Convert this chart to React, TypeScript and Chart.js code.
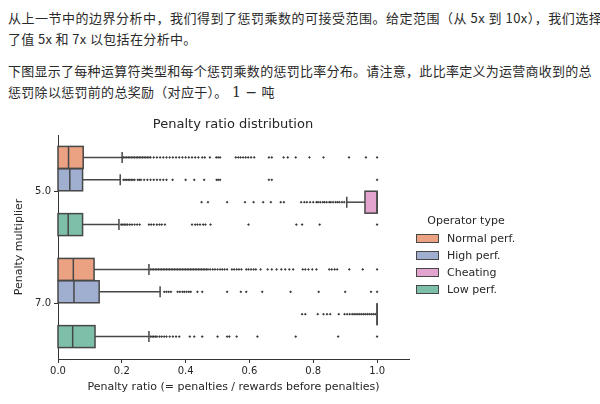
import React, { useEffect, useRef } from "react";
import { Chart, registerables } from "chart.js";

Chart.register(...registerables);

// ---------- data ----------
const categories = ["5.0", "7.0"];
const operatorTypes = ["Normal perf.", "High perf.", "Cheating", "Low perf."];
const xTicks = [0, 0.2, 0.4, 0.6, 0.8, 1.0];

// box stats per category: [whiskerLow, q1, median, q3, whiskerHigh]
const normalBox = [
  [0, 0, 0.033, 0.079, 0.201],
  [0, 0, 0.048, 0.113, 0.285],
];
const highBox = [
  [0, 0, 0.037, 0.077, 0.195],
  [0, 0, 0.05, 0.129, 0.32],
];
const cheatingBox = [
  [0.905, 0.962, 1.0, 1.0, 1.0],
  [1.0, 1.0, 1.0, 1.0, 1.0],
];
const lowBox = [
  [0, 0, 0.032, 0.077, 0.191],
  [0, 0, 0.046, 0.116, 0.285],
];

// outliers per category
const normalOutliers5 = [0.205, 0.21, 0.215, 0.22, 0.225, 0.23, 0.235, 0.24, 0.245, 0.25, 0.255, 0.26, 0.265, 0.27, 0.275, 0.28, 0.285, 0.29, 0.3, 0.31, 0.32, 0.33, 0.34, 0.35, 0.36, 0.37, 0.38, 0.39, 0.4, 0.41, 0.42, 0.43, 0.44, 0.452, 0.46, 0.476, 0.496, 0.502, 0.508, 0.557, 0.565, 0.572, 0.58, 0.588, 0.596, 0.605, 0.615, 0.661, 0.67, 0.707, 0.72, 0.745, 0.788, 0.832, 0.912, 0.965, 1.0];
const normalOutliers7 = [0.29, 0.295, 0.3, 0.305, 0.31, 0.315, 0.32, 0.325, 0.33, 0.335, 0.34, 0.345, 0.35, 0.355, 0.36, 0.365, 0.37, 0.375, 0.38, 0.385, 0.39, 0.395, 0.4, 0.405, 0.41, 0.415, 0.42, 0.425, 0.43, 0.435, 0.44, 0.445, 0.45, 0.455, 0.46, 0.465, 0.47, 0.477, 0.485, 0.492, 0.5, 0.508, 0.515, 0.522, 0.53, 0.545, 0.552, 0.56, 0.567, 0.575, 0.59, 0.597, 0.605, 0.613, 0.62, 0.635, 0.657, 0.67, 0.685, 0.7, 0.712, 0.725, 0.737, 0.767, 0.775, 0.785, 0.797, 0.81, 0.85, 0.858, 0.867, 0.875, 0.913, 0.955, 1.0];
const highOutliers5 = [0.205, 0.21, 0.215, 0.22, 0.225, 0.23, 0.235, 0.24, 0.25, 0.255, 0.26, 0.27, 0.28, 0.29, 0.3, 0.31, 0.32, 0.33, 0.34, 0.359, 0.4, 0.427, 0.458, 0.497, 0.502, 0.508, 0.661, 0.67, 1.0];
const highOutliers7 = [0.333, 0.34, 0.347, 0.354, 0.375, 0.382, 0.39, 0.396, 0.403, 0.41, 0.416, 0.437, 0.452, 0.53, 0.573, 0.59, 0.64, 0.729, 0.817, 0.9, 0.981, 1.0];
const cheatingOutliers5 = [0.45, 0.47, 0.53, 0.586, 0.613, 0.643, 0.667, 0.698, 0.708, 0.762, 0.772, 0.78, 0.79, 0.8, 0.81, 0.815, 0.822, 0.83, 0.835, 0.842, 0.85, 0.855, 0.862, 0.87, 0.876, 0.882, 0.89, 0.897];
const cheatingOutliers7 = [0.765, 0.775, 0.814, 0.832, 0.843, 0.853, 0.88, 0.898, 0.906, 0.914, 0.922, 0.928, 0.934, 0.94, 0.946, 0.952, 0.958, 0.964, 0.97, 0.976, 0.982, 0.988, 0.994];
const lowOutliers5 = [0.198, 0.203, 0.208, 0.213, 0.218, 0.225, 0.232, 0.24, 0.248, 0.256, 0.285, 0.292, 0.3, 0.31, 0.318, 0.325, 0.335, 0.42, 0.43, 0.437, 0.445, 0.455, 0.462, 0.478, 0.597, 0.747, 0.765, 0.82, 1.0];
const lowOutliers7 = [0.29, 0.295, 0.3, 0.305, 0.31, 0.318, 0.325, 0.333, 0.34, 0.35, 0.36, 0.37, 0.38, 0.413, 0.427, 0.452, 0.5, 0.53, 0.537, 0.56, 0.625, 0.745, 0.878, 1.0];

// ---------- styles ----------
const fillColors = ["#eba282", "#a0aecf", "#e3a5cf", "#7dbfa8"];
const edgeColor = "#474747";
const hueOffsets = [-0.3, -0.1, 0.1, 0.3];
const boxHalf = 0.098;

const series = [
  { stats: normalBox, outliers: [normalOutliers5, normalOutliers7] },
  { stats: highBox, outliers: [highOutliers5, highOutliers7] },
  { stats: cheatingBox, outliers: [cheatingOutliers5, cheatingOutliers7] },
  { stats: lowBox, outliers: [lowOutliers5, lowOutliers7] },
];

const boxPlugin = {
  id: "boxes",
  beforeDatasetsDraw(chart: any) {
    const { ctx, scales } = chart;
    const x = scales.x;
    const y = scales.y;
    ctx.save();
    ctx.strokeStyle = edgeColor;
    const line = (x1: number, y1: number, x2: number, y2: number) => {
      ctx.beginPath();
      ctx.moveTo(x1, y1);
      ctx.lineTo(x2, y2);
      ctx.stroke();
    };
    series.forEach((s, h) => {
      s.stats.forEach((st, c) => {
        const [wl, q1, med, q3, wh] = st;
        const yc = c + hueOffsets[h];
        const yTop = y.getPixelForValue(yc - boxHalf);
        const yBot = y.getPixelForValue(yc + boxHalf);
        const capTop = y.getPixelForValue(yc - boxHalf / 2);
        const capBot = y.getPixelForValue(yc + boxHalf / 2);
        const ym = y.getPixelForValue(yc);
        const pwl = x.getPixelForValue(wl);
        const pq1 = x.getPixelForValue(q1);
        const pmed = x.getPixelForValue(med);
        const pq3 = x.getPixelForValue(q3);
        const pwh = x.getPixelForValue(wh);
        ctx.lineWidth = 1.5;
        if (pwl < pq1) {
          line(pwl, ym, pq1, ym);
          line(pwl, capTop, pwl, capBot);
        }
        if (pwh > pq3) {
          line(pq3, ym, pwh, ym);
          line(pwh, capTop, pwh, capBot);
        }
        ctx.fillStyle = fillColors[h];
        ctx.fillRect(pq1, yTop, pq3 - pq1, yBot - yTop);
        ctx.strokeRect(pq1, yTop, pq3 - pq1, yBot - yTop);
        line(pmed, yTop, pmed, yBot);
      });
    });
    ctx.restore();
  },
};

const datasets = series.map((s, h) => ({
  label: operatorTypes[h],
  data: s.outliers.flatMap((vals, c) => vals.map((v) => ({ x: v, y: c + hueOffsets[h] }))),
  pointStyle: "rectRot" as const,
  pointRadius: 1.4,
  pointBorderWidth: 0,
  pointBackgroundColor: "#3a3a3a",
  borderColor: "#3a3a3a",
  showLine: false,
}));

const font = (size: number) => ({ family: "'DejaVu Sans', sans-serif", size });

function ChartCanvas() {
  const ref = useRef<HTMLCanvasElement | null>(null);
  useEffect(() => {
    if (!ref.current) return;
    const chart = new Chart(ref.current, {
      type: "scatter",
      data: { datasets },
      plugins: [boxPlugin],
      options: {
        responsive: false,
        animation: false,
        events: [],
        layout: { padding: { left: 0, top: 135, right: 191, bottom: 0 } },
        plugins: { legend: { display: false }, tooltip: { enabled: false }, title: { display: false } },
        scales: {
          x: {
            type: "linear",
            min: 0,
            max: 1.1,
            afterBuildTicks: (s: any) => {
              s.ticks = xTicks.map((v) => ({ value: v }));
            },
            afterFit: (s: any) => {
              s.height = 45;
            },
            ticks: {
              font: font(10),
              color: "#262626",
              padding: 2,
              maxRotation: 0,
              callback: (v: any) => Number(v).toFixed(1),
            },
            grid: { display: true, drawOnChartArea: false, drawTicks: true, tickLength: 4, color: "#333333", lineWidth: 1 },
            border: { display: true, color: "#333333", width: 1 },
            title: {
              display: true,
              text: "Penalty ratio (= penalties / rewards before penalties)",
              font: font(11),
              color: "#262626",
              padding: { top: 0, bottom: 10 },
            },
          },
          y: {
            type: "linear",
            min: -0.5,
            max: 1.5,
            reverse: true,
            afterBuildTicks: (s: any) => {
              s.ticks = categories.map((_, i) => ({ value: i }));
            },
            afterFit: (s: any) => {
              s.width = 58;
            },
            ticks: {
              font: font(10),
              color: "#262626",
              padding: 3,
              callback: (_v: any, i: number) => categories[i],
            },
            grid: { display: true, drawOnChartArea: false, drawTicks: true, tickLength: 4, color: "#333333", lineWidth: 1 },
            border: { display: true, color: "#333333", width: 1 },
            title: {
              display: true,
              text: "Penalty multiplier",
              font: font(11),
              color: "#262626",
              padding: { top: 13, bottom: 0 },
            },
          },
        },
      } as any,
    });
    return () => chart.destroy();
  }, []);
  return <canvas ref={ref} width={600} height={404} style={{ position: "absolute", left: 0, top: 0, width: 600, height: 404 }} />;
}

const cjk = "'Noto Sans CJK SC', 'Noto Sans', sans-serif";
const textLines = [
  "从上一节中的边界分析中，我们得到了惩罚乘数的可接受范围。给定范围（从 5x 到 10x），我们选择",
  "了值 5x 和 7x 以包括在分析中。",
  "下图显示了每种运算符类型和每个惩罚乘数的惩罚比率分布。请注意，此比率定义为运营商收到的总",
  "惩罚除以惩罚前的总奖励（对应于）。",
];
const lineTops = [8, 29, 61, 82];
const lineSpacing = [0.5, 0.35, 0.27, 0.3];

export default function App() {
  const dv = "'DejaVu Sans', sans-serif";
  return (
    <div style={{ position: "fixed", left: 0, top: 0, width: 600, height: 404, background: "#fff", overflow: "hidden" }}>
      {textLines.map((t, i) => (
        <div
          key={i}
          style={{ position: "absolute", left: 8, top: lineTops[i], fontFamily: cjk, fontSize: 13, letterSpacing: lineSpacing[i], lineHeight: "20px", color: "#2a2a2a", whiteSpace: "nowrap" }}
        >
          {t}
          {i === 3 && (
            <span>
              <span style={{ fontFamily: "'DejaVu Serif', serif", fontSize: 14, letterSpacing: 0 }}>&nbsp;1 − </span>
              <span>吨</span>
            </span>
          )}
        </div>
      ))}
      <ChartCanvas />
      <div style={{ position: "absolute", left: 113, width: 240, top: 115, textAlign: "center", fontFamily: dv, fontSize: 13, lineHeight: "18px", color: "#262626", whiteSpace: "nowrap" }}>
        Penalty ratio distribution
      </div>
      <div style={{ position: "absolute", left: 406, top: 213, width: 120, textAlign: "center", fontFamily: dv, fontSize: 11, lineHeight: "16px", color: "#262626", whiteSpace: "nowrap" }}>
        Operator type
      </div>
      {operatorTypes.map((name, i) => (
        <div key={name} style={{ position: "absolute", left: 416, top: 231 + i * 16.9, height: 16, whiteSpace: "nowrap" }}>
          <div style={{ position: "absolute", left: 0, top: 3, width: 21, height: 7, background: fillColors[i], border: `1px solid ${edgeColor}` }} />
          <div style={{ position: "absolute", left: 31, top: 0, fontFamily: dv, fontSize: 11, lineHeight: "16px", color: "#262626" }}>{name}</div>
        </div>
      ))}
    </div>
  );
}
